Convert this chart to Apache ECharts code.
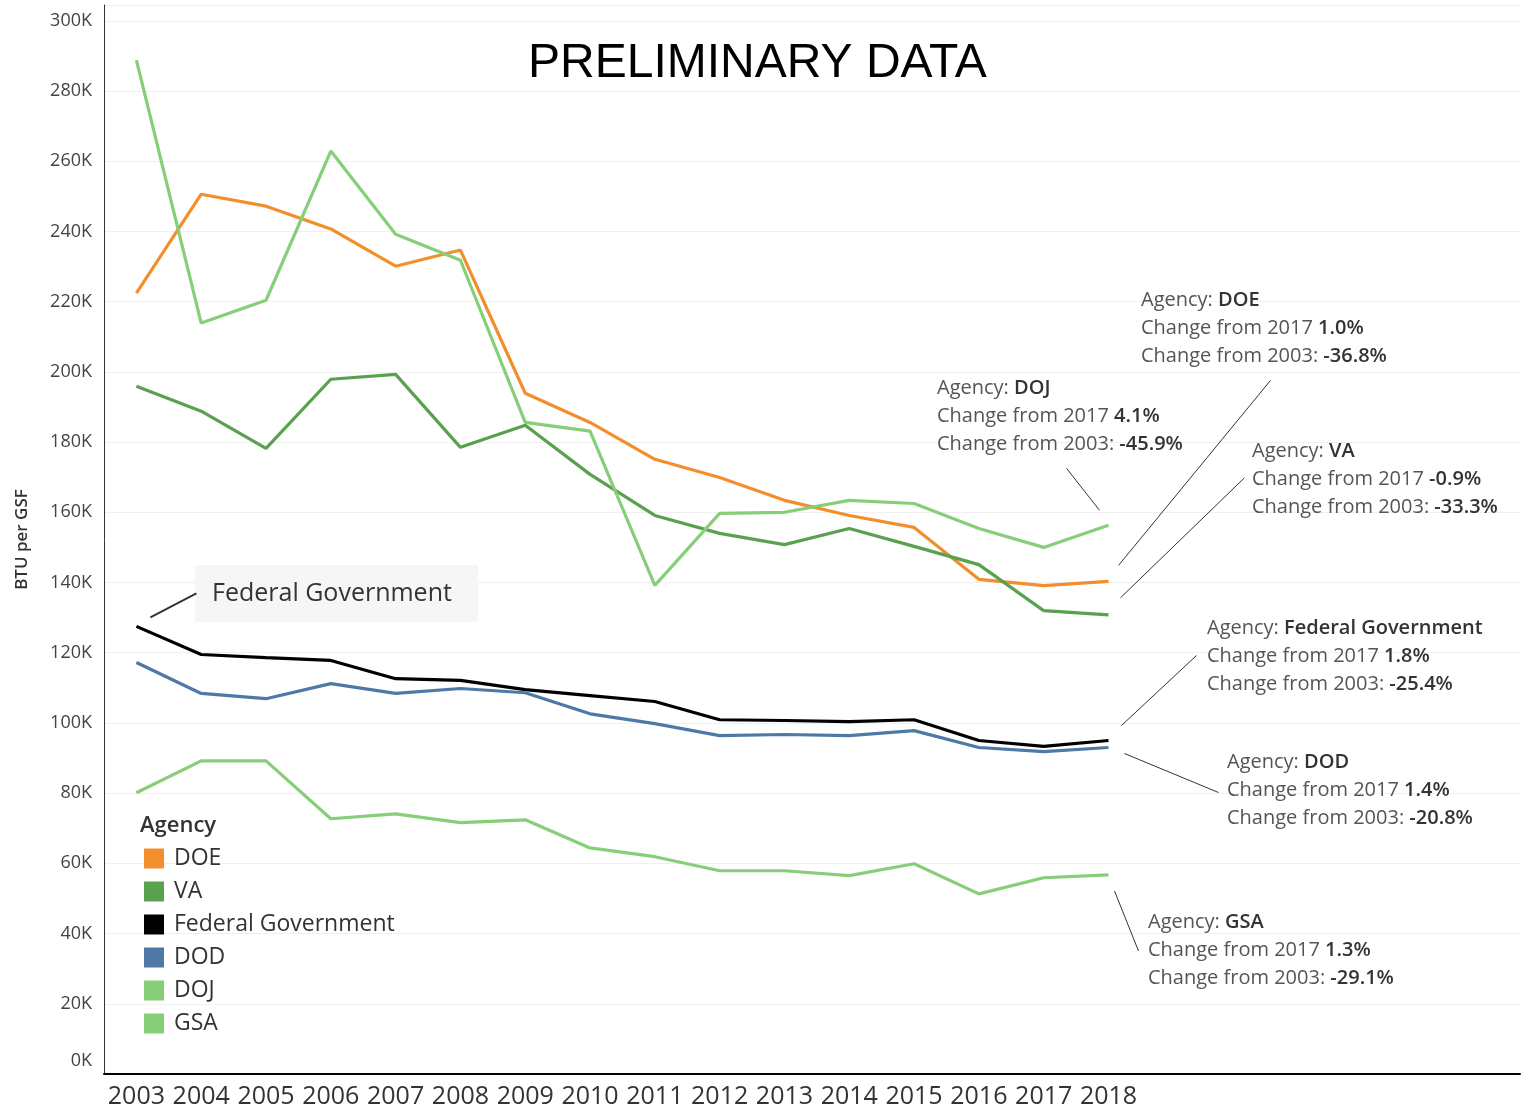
<!DOCTYPE html>
<html>
<head>
<meta charset="utf-8">
<script src="https://cdn.jsdelivr.net/npm/echarts@6/dist/echarts.min.js"></script>
<style>
html,body{margin:0;padding:0;background:#fff;}
#chart{width:1522px;height:1110px;}
</style>
</head>
<body>
<div id="chart"></div>
<script>
// ---- data (values in thousands of BTU per GSF) ----
const years = [2003,2004,2005,2006,2007,2008,2009,2010,2011,2012,2013,2014,2015,2016,2017,2018];
const doe = [222.4,250.6,247.2,240.7,230.1,234.7,193.9,185.6,175.1,169.9,163.4,159.1,155.7,140.9,139.1,140.3];
const va  = [195.9,188.8,178.2,197.9,199.3,178.5,184.8,170.8,159.1,154.0,150.8,155.4,150.3,145.1,132.0,130.8];
const fed = [127.5,119.5,118.6,117.8,112.6,112.1,109.5,107.8,106.1,100.9,100.7,100.4,100.9,95.0,93.3,95.0];
const dod = [117.2,108.4,106.9,111.2,108.4,109.8,108.6,102.6,99.8,96.4,96.7,96.4,97.8,93.0,91.8,93.0];
const doj = [288.8,213.9,220.4,262.9,239.2,231.8,185.6,183.1,139.2,159.7,160.0,163.4,162.5,155.4,150.0,156.3];
const gsa = [80.1,89.2,89.2,72.7,74.1,71.6,72.4,64.4,61.9,57.9,57.9,56.5,59.9,51.3,55.9,56.7];
const agencies = ['DOE','VA','Federal Government','DOD','DOJ','GSA'];
const yTicks = [0,20,40,60,80,100,120,140,160,180,200,220,240,260,280,300];
const annotations = [
  {name:'DOJ', c17:'4.1%', c03:'-45.9%'},
  {name:'DOE', c17:'1.0%', c03:'-36.8%'},
  {name:'VA', c17:'-0.9%', c03:'-33.3%'},
  {name:'Federal Government', c17:'1.8%', c03:'-25.4%'},
  {name:'DOD', c17:'1.4%', c03:'-20.8%'},
  {name:'GSA', c17:'1.3%', c03:'-29.1%'}
];

const colors = {
  'DOE':'#F28E2B','VA':'#59A14F','Federal Government':'#000000',
  'DOD':'#4E79A7','DOJ':'#86CF78','GSA':'#86CF78'
};
const seriesData = {'DOE':doe,'VA':va,'Federal Government':fed,'DOD':dod,'DOJ':doj,'GSA':gsa};
const FONT = '"Open Sans", "Noto Sans", sans-serif';

const chart = echarts.init(document.getElementById('chart'));

const series = agencies.map(a => ({
  name: a,
  type: 'line',
  data: years.map((y,i) => [y, seriesData[a][i]]),
  showSymbol: false,
  symbol: 'none',
  lineStyle: {width: 3.2, color: colors[a]},
  itemStyle: {color: colors[a]},
  emphasis: {disabled: true},
  animation: false
}));

chart.setOption({
  animation: false,
  textStyle: {fontFamily: FONT},
  grid: {left: 104, right: 2, top: 5, bottom: 36, containLabel: false, outerBoundsMode: 'none'},
  title: {
    text: 'PRELIMINARY DATA',
    left: 523, top: 35,
    textStyle: {fontFamily: '"Liberation Sans", Arial, sans-serif', fontSize: 48, fontWeight: 'normal', color: '#000'}
  },
  legend: {
    orient: 'vertical',
    left: 139, top: 842,
    itemWidth: 20, itemHeight: 20, itemGap: 10,
    icon: 'rect',
    data: agencies,
    textStyle: {fontFamily: FONT, fontSize: 23, lineHeight: 22, color: '#333', padding: [0,0,0,5]},
    selectedMode: false
  },
  xAxis: {
    type: 'value',
    min: 2002.5, max: 2024.35,
    axisLine: {show: true, lineStyle: {color: '#000', width: 2}},
    axisTick: {show: false},
    splitLine: {show: false},
    axisLabel: {
      customValues: years,
      formatter: v => String(v),
      fontSize: 25, color: '#333', margin: 10
    }
  },
  yAxis: {
    type: 'value',
    min: 0, max: 304.5, interval: 20,
    name: 'BTU per GSF',
    nameLocation: 'middle', nameRotate: 90, nameGap: 73,
    nameTextStyle: {fontSize: 17, fontWeight: 600, color: '#333'},
    axisLine: {show: true, lineStyle: {color: '#333', width: 1}},
    axisTick: {show: false},
    splitLine: {lineStyle: {color: '#f0f0f0', width: 1}},
    axisLabel: {
      customValues: yTicks,
      fontSize: 18, color: '#444', margin: 12,
      formatter: v => v === 0 ? '{z|0K}' : (v + 'K'),
      rich: {z: {fontSize: 18, color: '#444', padding: [0,0,26,0]}}
    }
  },
  series: series
});

// ---- annotations ----
function px(year, val){ return chart.convertToPixel({gridIndex:0}, [year, val]); }
const last = years.length - 1;
const yr = years[last];
const annLayout = {
  'DOJ': {tx:937, ty:374, l:[-42,-57,-9,-15]},
  'DOE': {tx:1141, ty:286, l:[10,-16,162,-201]},
  'VA': {tx:1252, ty:437, l:[12,-17,136,-137]},
  'Federal Government': {tx:1207, ty:614, l:[13,-15,88,-85]},
  'DOD': {tx:1227, ty:748, l:[16,6,110,45]},
  'GSA': {tx:1148, ty:908, l:[6,16,30,76]}
};
const graphics = [];
annotations.forEach(a => {
  const L = annLayout[a.name];
  const p = px(yr, seriesData[a.name][last]);
  graphics.push({
    type: 'line', silent: true,
    shape: {x1: p[0]+L.l[0], y1: p[1]+L.l[1], x2: p[0]+L.l[2], y2: p[1]+L.l[3]},
    style: {stroke: '#333', lineWidth: 1}
  });
  graphics.push({
    type: 'text', silent: true, x: L.tx, y: L.ty,
    style: {
      text: '{r|Agency: }{b|' + a.name + '}\n{r|Change from 2017 }{b|' + a.c17 + '}\n{r|Change from 2003: }{b|' + a.c03 + '}',
      fontFamily: FONT, fontSize: 20, lineHeight: 28, fill: '#555',
      verticalAlign: 'top', align: 'left',
      rich: {
        r: {fontFamily: FONT, fontSize: 20, lineHeight: 28, fill: '#555', color: '#555'},
        b: {fontFamily: FONT, fontSize: 20, lineHeight: 28, fontWeight: 600, fill: '#333', color: '#333'}
      }
    }
  });
});
// Federal Government callout
const p0 = px(years[0], fed[0]);
graphics.push({type:'rect', silent:true, shape:{x:195, y:565, width:283, height:57}, style:{fill:'#f6f6f6'}});
graphics.push({type:'text', silent:true, x:212, y:594, style:{text:'Federal Government', fontFamily:FONT, fontSize:25, fill:'#333', verticalAlign:'middle'}});
graphics.push({type:'line', silent:true, shape:{x1:p0[0]+14, y1:p0[1]-9, x2:p0[0]+60, y2:p0[1]-33}, style:{stroke:'#333', lineWidth:2}});
// Legend title
graphics.push({type:'text', silent:true, x:140, y:826, style:{text:'Agency', fontFamily:FONT, fontSize:22, fontWeight:600, fill:'#333', verticalAlign:'middle'}});

chart.setOption({graphic: graphics});
</script>
</body>
</html>
